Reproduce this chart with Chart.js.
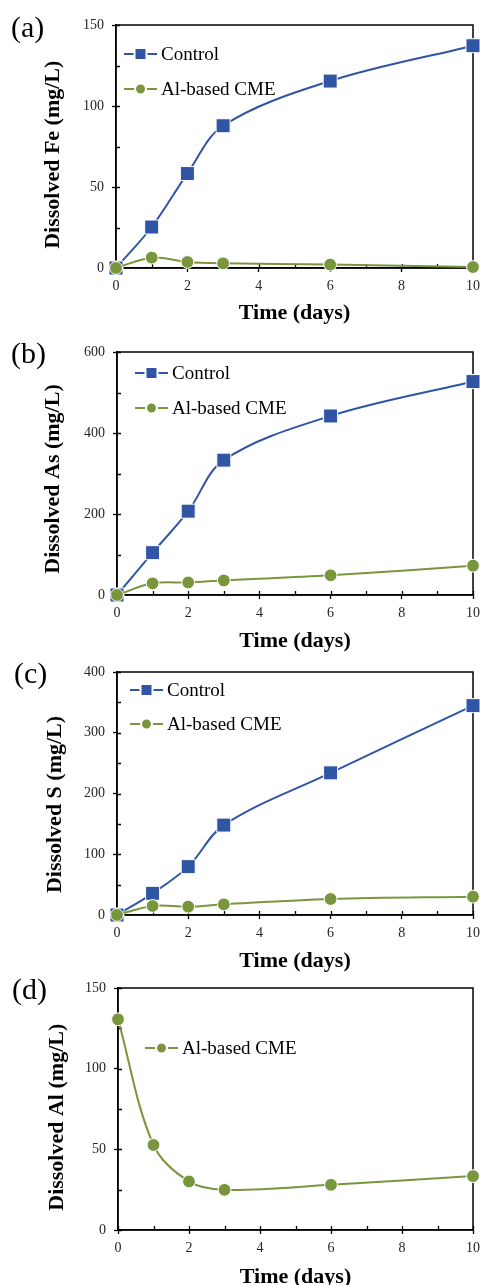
<!DOCTYPE html>
<html>
<head>
<meta charset="utf-8">
<script src="https://cdn.jsdelivr.net/npm/chart.js@4.4.0/dist/chart.umd.min.js"></script>
<style>
  html, body { margin: 0; padding: 0; background: #fff; }
  body { width: 480px; height: 1285px; position: relative; overflow: hidden; }
  .panel { position: absolute; left: 0; width: 480px; }
  .tag { position: absolute; font-family: "Liberation Serif", "Times New Roman", serif; font-size: 30px; line-height: 1; color: #000; }
</style>
</head>
<body>
<div class="panel" style="top:0px"><canvas id="chartFe" width="480" height="328"></canvas></div>
<div class="panel" style="top:328px"><canvas id="chartAs" width="480" height="327"></canvas></div>
<div class="panel" style="top:655px"><canvas id="chartS" width="480" height="320"></canvas></div>
<div class="panel" style="top:975px"><canvas id="chartAl" width="480" height="320"></canvas></div>
<div class="tag" style="left:11px;top:12px">(a)</div>
<div class="tag" style="left:11px;top:338px">(b)</div>
<div class="tag" style="left:14px;top:658px">(c)</div>
<div class="tag" style="left:12px;top:974px">(d)</div>

<script>
// sampling times
const days = [0, 1, 2, 3, 6, 10];
const xTicks = [0, 1, 2, 3, 4, 5, 6, 7, 8, 9, 10];
const xLabels = [0, 2, 4, 6, 8, 10];

// (a) dissolved Fe, mg/L
const feControl = [0, 25.3, 58.3, 87.8, 115.4, 137.2];
const feCme = [0, 6.4, 3.7, 2.9, 2.1, 0.6];
const feTicks = [0, 25, 50, 75, 100, 125, 150];
const feLabels = [0, 50, 100, 150];

// (b) dissolved As, mg/L
const asControl = [0, 104.5, 207, 333, 442, 527];
const asCme = [0, 28.8, 31, 36, 48.6, 72.4];
const asTicks = [0, 100, 200, 300, 400, 500, 600];
const asLabels = [0, 200, 400, 600];

// (c) dissolved S, mg/L
const sControl = [0, 35.7, 79.6, 148, 234, 344.6];
const sCme = [0, 14.8, 13.7, 17.6, 26.3, 30.2];
const sTicks = [0, 50, 100, 150, 200, 250, 300, 350, 400];
const sLabels = [0, 100, 200, 300, 400];

// (d) dissolved Al, mg/L
const alCme = [130.6, 52.7, 30.1, 24.9, 28, 33.4];
const alTicks = [0, 25, 50, 75, 100, 125, 150];
const alLabels = [0, 50, 100, 150];

const blue = "#2F55A4";
const green = "#7A963C";
const black = "#000";

Chart.defaults.font.family = '"Liberation Serif", "Times New Roman", serif';

// box around the plot + inner tick marks
const frame = {
  id: "frame",
  beforeDatasetsDraw(chart) {
    const { ctx, chartArea: a, scales } = chart;
    ctx.save();
    ctx.strokeStyle = black;
    ctx.lineWidth = 1.5;
    ctx.strokeRect(a.left, a.top, a.right - a.left, a.bottom - a.top);
    ctx.lineWidth = 1.3;
    ctx.beginPath();
    scales.x.ticks.forEach((t) => {
      const px = Math.round(scales.x.getPixelForValue(t.value)) + 0.5;
      ctx.moveTo(px, a.bottom);
      ctx.lineTo(px, a.bottom - 4);
    });
    scales.y.ticks.forEach((t) => {
      const py = Math.round(scales.y.getPixelForValue(t.value)) + 0.5;
      ctx.moveTo(a.left, py);
      ctx.lineTo(a.left + 4, py);
    });
    ctx.stroke();
    ctx.restore();
  },
};

// legend drawn inside the plot: line with marker, then label
const seriesKey = {
  id: "seriesKey",
  afterDraw(chart, args, o) {
    const { ctx, chartArea: a } = chart;
    chart.data.datasets.forEach((ds, i) => {
      const x = a.left + o.dx;
      const y = a.top + o.dy + i * o.gap;
      ctx.save();
      ctx.strokeStyle = ds.borderColor;
      ctx.lineWidth = 2;
      ctx.beginPath();
      ctx.moveTo(x, y);
      ctx.lineTo(x + 33, y);
      ctx.stroke();
      ctx.fillStyle = ds.borderColor;
      ctx.strokeStyle = "#fff";
      ctx.lineWidth = 2;
      ctx.beginPath();
      if (ds.pointStyle === "rect") ctx.rect(x + 16.5 - 6, y - 6, 12, 12);
      else ctx.arc(x + 16.5, y, 5.5, 0, Math.PI * 2);
      ctx.fill();
      ctx.stroke();
      ctx.fillStyle = black;
      ctx.font = '19px "Liberation Serif", "Times New Roman", serif';
      ctx.textBaseline = "middle";
      ctx.fillText(ds.label, x + 37, y + 1);
      ctx.restore();
    });
  },
};

function series(label, values, kind) {
  const isControl = kind === "control";
  const color = isControl ? blue : green;
  return {
    label: label,
    data: days.map((d, i) => ({ x: d, y: values[i] })),
    borderColor: color,
    backgroundColor: color,
    borderWidth: 2,
    pointStyle: isControl ? "rect" : "circle",
    pointRadius: isControl ? 9.9 : 6.4,
    pointBackgroundColor: color,
    pointBorderColor: "#fff",
    pointBorderWidth: 1,
    tension: 0.35,
    clip: false,
    order: isControl ? 2 : 1,
  };
}

function makeChart(id, datasets, yTitle, yMax, yTicks, yLabels, lay) {
  new Chart(document.getElementById(id), {
    type: "line",
    data: { datasets: datasets },
    plugins: [frame, seriesKey],
    options: {
      responsive: false,
      animation: false,
      events: [],
      layout: { autoPadding: false, padding: { top: lay.padTop, right: 7, bottom: 0, left: 0 } },
      plugins: {
        legend: { display: false },
        tooltip: { enabled: false },
        seriesKey: lay.key,
      },
      scales: {
        x: {
          type: "linear",
          min: 0,
          max: 10,
          afterBuildTicks: (s) => { s.ticks = xTicks.map((v) => ({ value: v })); },
          afterFit: (s) => { s.height = lay.xHeight; s.paddingLeft = 0; s.paddingRight = 0; },
          grid: {
            drawOnChartArea: false,
            tickLength: 4,
            tickWidth: 1.3,
            tickColor: (c) => (c.tick && xLabels.includes(c.tick.value) ? black : "rgba(0,0,0,0)"),
          },
          border: { color: black, width: 1.5 },
          ticks: {
            padding: 6,
            color: "#262626",
            font: { size: 14 },
            maxRotation: 0,
            autoSkip: false,
            callback: (v) => (xLabels.includes(v) ? v : ""),
          },
          title: {
            display: true,
            text: "Time (days)",
            color: black,
            font: { size: 22, weight: "bold" },
            padding: { top: 0, bottom: lay.xTitlePad },
          },
        },
        y: {
          min: 0,
          max: yMax,
          afterBuildTicks: (s) => { s.ticks = yTicks.map((v) => ({ value: v })); },
          afterFit: (s) => { s.width = lay.yWidth; s.paddingTop = 0; s.paddingBottom = 0; },
          grid: {
            drawOnChartArea: false,
            tickLength: 4,
            tickWidth: 1.3,
            tickColor: (c) => (c.tick && yLabels.includes(c.tick.value) ? black : "rgba(0,0,0,0)"),
          },
          border: { color: black, width: 1.5 },
          ticks: {
            padding: 8,
            color: "#262626",
            font: { size: 14 },
            autoSkip: false,
            callback: (v) => (yLabels.includes(v) ? v : ""),
          },
          title: {
            display: true,
            // trailing spaces push the rotated title down a little, as in the original
            text: yTitle + " ".repeat(lay.yTitleShift),
            color: black,
            font: { size: 22, weight: "bold" },
            padding: { top: lay.yTitlePad, bottom: 0 },
          },
        },
      },
    },
  });
}

makeChart(
  "chartFe",
  [series("Control", feControl, "control"), series("Al-based CME", feCme, "cme")],
  "Dissolved Fe (mg/L)", 150, feTicks, feLabels,
  { padTop: 25, xHeight: 60, xTitlePad: 1, yWidth: 116, yTitlePad: 40, yTitleShift: 3, key: { dx: 8, dy: 29, gap: 35 } }
);

makeChart(
  "chartAs",
  [series("Control", asControl, "control"), series("Al-based CME", asCme, "cme")],
  "Dissolved As (mg/L)", 600, asTicks, asLabels,
  { padTop: 24, xHeight: 60, xTitlePad: 0, yWidth: 117, yTitlePad: 40, yTitleShift: 2, key: { dx: 18, dy: 21, gap: 35 } }
);

makeChart(
  "chartS",
  [series("Control", sControl, "control"), series("Al-based CME", sCme, "cme")],
  "Dissolved S (mg/L)", 400, sTicks, sLabels,
  { padTop: 17, xHeight: 60, xTitlePad: 0, yWidth: 117, yTitlePad: 42, yTitleShift: 4, key: { dx: 13, dy: 18, gap: 34 } }
);

makeChart(
  "chartAl",
  [series("Al-based CME", alCme, "cme")],
  "Dissolved Al (mg/L)", 150, alTicks, alLabels,
  { padTop: 13, xHeight: 65, xTitlePad: 4, yWidth: 118, yTitlePad: 44, yTitleShift: 3, key: { dx: 27, dy: 60, gap: 35 } }
);
</script>
</body>
</html>
